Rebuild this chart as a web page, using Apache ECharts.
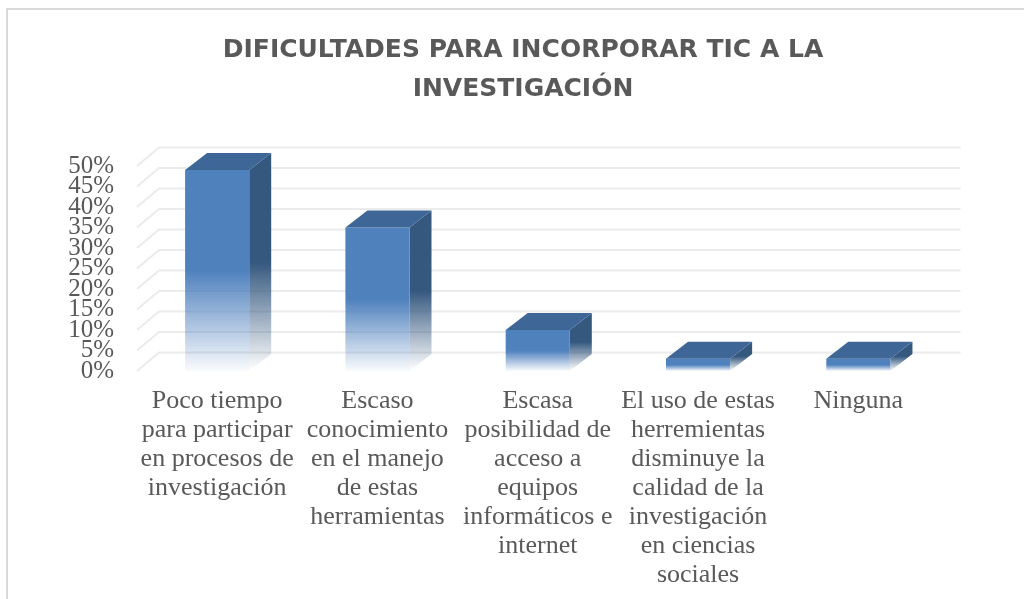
<!DOCTYPE html>
<html>
<head>
<meta charset="utf-8">
<script src="https://cdn.jsdelivr.net/npm/echarts@6/dist/echarts.min.js"></script>
<style>
html,body{margin:0;padding:0;background:#fff;}
#chart{width:1024px;height:599px;}
</style>
</head>
<body>
<div id="chart"></div>
<script>
const titleText = 'DIFICULTADES PARA INCORPORAR TIC A LA\nINVESTIGACIÓN';
const categories = [
  'Poco tiempo\npara participar\nen procesos de\ninvestigación',
  'Escaso\nconocimiento\nen el manejo\nde estas\nherramientas',
  'Escasa\nposibilidad de\nacceso a\nequipos\ninformáticos e\ninternet',
  'El uso de estas\nherremientas\ndisminuye la\ncalidad de la\ninvestigación\nen ciencias\nsociales',
  'Ninguna'
];
const values = [49, 35, 10, 3, 3];
const yTicks = [0, 5, 10, 15, 20, 25, 30, 35, 40, 45, 50];
const yTickLabels = ['0%', '5%', '10%', '15%', '20%', '25%', '30%', '35%', '40%', '45%', '50%'];

const WALL_DX = 22, WALL_DY = 18.5;
const BAR_DX = 22, BAR_DY = 17;

const chart = echarts.init(document.getElementById('chart'), null, {renderer: 'canvas'});

const option = {
  backgroundColor: '#ffffff',
  animation: false,
  graphic: [
    {
      type: 'rect', z: 0,
      shape: {x: 7, y: 9, width: 1040, height: 620},
      style: {fill: 'none', stroke: '#d9d9d9', lineWidth: 2}
    },
    {
      type: 'text', z: 10,
      style: {
        x: 523, y: 31, text: titleText, textAlign: 'center', textVerticalAlign: 'top',
        font: 'bold 25px "DejaVu Sans"', fill: '#595959', lineHeight: 39
      }
    }
  ],
  grid: {left: 137, right: 85.5, top: 166, bottom: 228},
  xAxis: {
    type: 'category',
    data: categories,
    axisLine: {show: false},
    axisTick: {show: false},
    axisLabel: {
      interval: 0, margin: 16, color: '#595959',
      fontFamily: 'Liberation Serif', fontSize: 26, lineHeight: 29, align: 'center'
    }
  },
  yAxis: {
    type: 'value', min: 0, max: 50, interval: 5,
    axisLine: {show: false}, axisTick: {show: false}, splitLine: {show: false},
    axisLabel: {show: false}
  },
  series: [
    {
      type: 'custom',
      z: 1,
      silent: true,
      data: yTicks.map((v, i) => [0, v, i]),
      encode: {x: 0, y: 1},
      renderItem: function (params, api) {
        const cs = params.coordSys;
        const y = api.coord([0, api.value(1)])[1];
        const label = yTickLabels[api.value(2)];
        return {
          type: 'group',
          children: [
            {
              type: 'polyline',
              shape: {points: [
                [cs.x, y],
                [cs.x + WALL_DX, y - WALL_DY],
                [cs.x + cs.width + WALL_DX, y - WALL_DY]
              ]},
              style: {stroke: '#ebebeb', lineWidth: 2, fill: null}
            },
            {
              type: 'text',
              style: {
                x: cs.x - 23, y: y, text: label, textAlign: 'right', textVerticalAlign: 'middle',
                font: '25px "Liberation Serif"', fill: '#595959'
              }
            }
          ]
        };
      }
    },
    {
      type: 'custom',
      z: 5,
      data: values.map((v, i) => [i, v]),
      encode: {x: 0, y: 1},
      renderItem: function (params, api) {
        const top = api.coord([api.value(0), api.value(1)]);
        const base = api.coord([api.value(0), 0]);
        const band = api.size([1, 0])[0];
        const bw = band * 0.4;
        const x0 = top[0] - bw / 2, x1 = top[0] + bw / 2;
        const yt = top[1], yb = base[1];
        const h = yb - yt;
        return {
          type: 'group',
          children: [
            {
              type: 'polygon',
              shape: {points: [[x1, yt], [x1 + BAR_DX, yt - BAR_DY], [x1 + BAR_DX, yb - BAR_DY], [x1, yb]]},
              style: {fill: new echarts.graphic.LinearGradient(0, 0, 0, 1, [
                {offset: 0, color: '#35587f'},
                {offset: 0.5, color: '#35587f'},
                {offset: 1, color: 'rgba(53,88,127,0)'}
              ])}
            },
            {
              type: 'rect',
              shape: {x: x0, y: yt, width: bw, height: h},
              style: {fill: new echarts.graphic.LinearGradient(0, 0, 0, 1, [
                {offset: 0, color: '#4f81bd'},
                {offset: 0.5, color: '#4f81bd'},
                {offset: 1, color: 'rgba(79,129,189,0.03)'}
              ])}
            },
            {
              type: 'polygon',
              shape: {points: [[x0, yt], [x1, yt], [x1 + BAR_DX, yt - BAR_DY], [x0 + BAR_DX, yt - BAR_DY]]},
              style: {fill: '#3e6797'}
            }
          ]
        };
      }
    }
  ]
};
chart.setOption(option);
</script>
</body>
</html>
